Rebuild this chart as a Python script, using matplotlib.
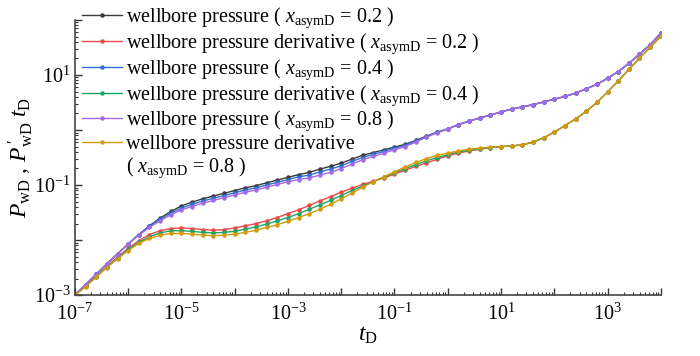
import matplotlib
matplotlib.use("Agg")
import matplotlib.pyplot as plt
from matplotlib.ticker import LogLocator, NullFormatter

plt.rcParams['font.family'] = ['Liberation Serif', 'DejaVu Serif']
plt.rcParams['mathtext.fontset'] = 'custom'
plt.rcParams['mathtext.rm'] = 'Liberation Serif'
plt.rcParams['mathtext.it'] = 'Liberation Serif:italic'

# log10 of dimensionless time
log_tD = [-7.0, -6.8, -6.6, -6.4, -6.2, -6.0, -5.8, -5.6, -5.4, -5.2,
          -5.0, -4.8, -4.6, -4.4, -4.2, -4.0, -3.8, -3.6, -3.4, -3.2,
          -3.0, -2.8, -2.6, -2.4, -2.2, -2.0, -1.8, -1.6, -1.4, -1.2,
          -1.0, -0.8, -0.6, -0.4, -0.2, 0.0, 0.2, 0.4, 0.6, 0.8,
          1.0, 1.2, 1.4, 1.6, 1.8, 2.0, 2.2, 2.4, 2.6, 2.8,
          3.0, 3.2, 3.4, 3.6, 3.8, 4.0]

# log10 of wellbore pressure / derivative
p_02 = [-3.00, -2.81, -2.62, -2.43, -2.25, -2.07, -1.90, -1.74, -1.60, -1.48,
        -1.38, -1.31, -1.25, -1.20, -1.15, -1.10, -1.05, -1.01, -0.96, -0.91,
        -0.86, -0.81, -0.77, -0.71, -0.66, -0.60, -0.53, -0.46, -0.41, -0.36,
        -0.31, -0.26, -0.19, -0.11, -0.04, 0.02, 0.10, 0.16, 0.22, 0.27,
        0.33, 0.38, 0.42, 0.46, 0.51, 0.56, 0.61, 0.67, 0.75, 0.83,
        0.94, 1.06, 1.21, 1.38, 1.55, 1.76]
p_04 = [-3.00, -2.81, -2.62, -2.43, -2.25, -2.07, -1.90, -1.75, -1.62, -1.51,
        -1.42, -1.35, -1.29, -1.24, -1.19, -1.14, -1.09, -1.05, -1.00, -0.95,
        -0.90, -0.85, -0.82, -0.76, -0.71, -0.65, -0.57, -0.50, -0.44, -0.39,
        -0.33, -0.28, -0.20, -0.12, -0.04, 0.02, 0.10, 0.16, 0.22, 0.27,
        0.33, 0.38, 0.42, 0.46, 0.51, 0.56, 0.61, 0.67, 0.75, 0.83,
        0.94, 1.06, 1.21, 1.38, 1.55, 1.76]
p_08 = [-3.00, -2.81, -2.62, -2.43, -2.25, -2.07, -1.91, -1.77, -1.65, -1.54,
        -1.45, -1.39, -1.33, -1.28, -1.23, -1.18, -1.13, -1.09, -1.04, -0.99,
        -0.94, -0.90, -0.87, -0.82, -0.77, -0.70, -0.62, -0.54, -0.48, -0.42,
        -0.36, -0.30, -0.22, -0.13, -0.05, 0.02, 0.10, 0.16, 0.22, 0.27,
        0.33, 0.38, 0.42, 0.46, 0.51, 0.56, 0.61, 0.67, 0.75, 0.83,
        0.94, 1.06, 1.21, 1.38, 1.55, 1.76]
d_02 = [-3.00, -2.84, -2.66, -2.48, -2.31, -2.15, -2.01, -1.90, -1.83, -1.79,
        -1.78, -1.79, -1.81, -1.82, -1.81, -1.78, -1.74, -1.70, -1.65, -1.59,
        -1.52, -1.45, -1.37, -1.29, -1.21, -1.13, -1.06, -0.99, -0.93, -0.87,
        -0.80, -0.73, -0.66, -0.60, -0.53, -0.47, -0.42, -0.38, -0.35, -0.32,
        -0.30, -0.29, -0.27, -0.22, -0.14, -0.04, 0.08, 0.20, 0.34, 0.50,
        0.69, 0.89, 1.10, 1.31, 1.50, 1.71]
d_04 = [-3.00, -2.84, -2.67, -2.49, -2.33, -2.17, -2.04, -1.94, -1.87, -1.83,
        -1.83, -1.84, -1.86, -1.87, -1.86, -1.84, -1.80, -1.76, -1.71, -1.65,
        -1.59, -1.52, -1.44, -1.36, -1.28, -1.19, -1.10, -1.02, -0.94, -0.86,
        -0.78, -0.70, -0.63, -0.56, -0.50, -0.45, -0.40, -0.37, -0.34, -0.32,
        -0.30, -0.29, -0.27, -0.22, -0.14, -0.04, 0.08, 0.20, 0.34, 0.50,
        0.69, 0.89, 1.10, 1.31, 1.50, 1.71]
d_08 = [-3.00, -2.85, -2.67, -2.50, -2.34, -2.19, -2.06, -1.97, -1.91, -1.88,
        -1.88, -1.89, -1.91, -1.92, -1.91, -1.89, -1.86, -1.82, -1.77, -1.72,
        -1.66, -1.59, -1.52, -1.44, -1.35, -1.25, -1.15, -1.04, -0.94, -0.85,
        -0.76, -0.67, -0.59, -0.52, -0.46, -0.42, -0.38, -0.35, -0.33, -0.31,
        -0.30, -0.29, -0.27, -0.22, -0.14, -0.04, 0.08, 0.20, 0.34, 0.50,
        0.69, 0.89, 1.10, 1.31, 1.50, 1.71]

xa = r'$\mathit{x}_{\rm asymD}$ = '
labels = ['wellbore pressure ( ' + xa + '0.2 )',
          'wellbore pressure derivative ( ' + xa + '0.2 )',
          'wellbore pressure ( ' + xa + '0.4 )',
          'wellbore pressure derivative ( ' + xa + '0.4 )',
          'wellbore pressure ( ' + xa + '0.8 )',
          'wellbore pressure derivative']
label_cont = '( ' + xa + '0.8 )'
series = [p_02, d_02, p_04, d_04, p_08, d_08]
colors = ['#3a3a3a', '#f04848', '#2f6fd8', '#20a464', '#a56ae6', '#d49a0c']

tD = [10 ** v for v in log_tD]

fig = plt.figure(figsize=(7, 3.56), dpi=100)
ax = fig.add_axes([0.107, 0.171, 0.837, 0.773])

for vals, col, lab in zip(series, colors, labels):
    ax.plot(tD, [10 ** v for v in vals], color=col, linewidth=1.0,
            marker='o', markersize=2.2, label=lab)
# second line of the last legend entry
ax.plot([], [], color='none', label=label_cont)

ax.set_xscale('log')
ax.set_yscale('log')
ax.set_xlim(1e-7, 1e4)
ax.set_ylim(1e-3, 1e2)

xt = [10.0 ** e for e in range(-7, 5)]
ax.set_xticks(xt)
ax.set_xticklabels([r'$10^{%d}$' % e if e % 2 else '' for e in range(-7, 5)])
yt = [10.0 ** e for e in range(-3, 3)]
ax.set_yticks(yt)
ax.set_yticklabels([r'$10^{%d}$' % e if e % 2 else '' for e in range(-3, 3)])
ax.xaxis.set_minor_locator(LogLocator(base=10, subs=range(2, 10), numticks=20))
ax.yaxis.set_minor_locator(LogLocator(base=10, subs=range(2, 10), numticks=20))
ax.xaxis.set_minor_formatter(NullFormatter())
ax.yaxis.set_minor_formatter(NullFormatter())

ax.tick_params(which='major', direction='in', length=5, width=1, labelsize=14.5, colors='#333333',
               labelcolor='black')
ax.tick_params(axis='x', which='major', pad=6)
ax.tick_params(axis='y', which='major', pad=3)
ax.tick_params(which='minor', direction='in', length=2.5, width=0.8, colors='#333333')
for s in ['top', 'right']:
    ax.spines[s].set_visible(False)
for s in ['left', 'bottom']:
    ax.spines[s].set_linewidth(1.2)
    ax.spines[s].set_color('#444444')

ax.set_xlabel(r'$\mathit{t}_{\rm D}$', fontsize=17, labelpad=0)
ax.set_ylabel(r'$\mathit{P}_{\rm wD}$ , $\mathit{P}^{\,\prime}_{\rm wD}\ \mathit{t}_{\rm D}$', fontsize=17)
ax.yaxis.set_label_coords(-0.068, 0.5)

ax.legend(loc='upper left', bbox_to_anchor=(0.117, 0.985), bbox_transform=fig.transFigure,
          frameon=False, fontsize=14.5, handlelength=2.0, handletextpad=0.2,
          labelspacing=0.07, borderaxespad=0, borderpad=0)

fig.savefig('out.png', dpi=100)
